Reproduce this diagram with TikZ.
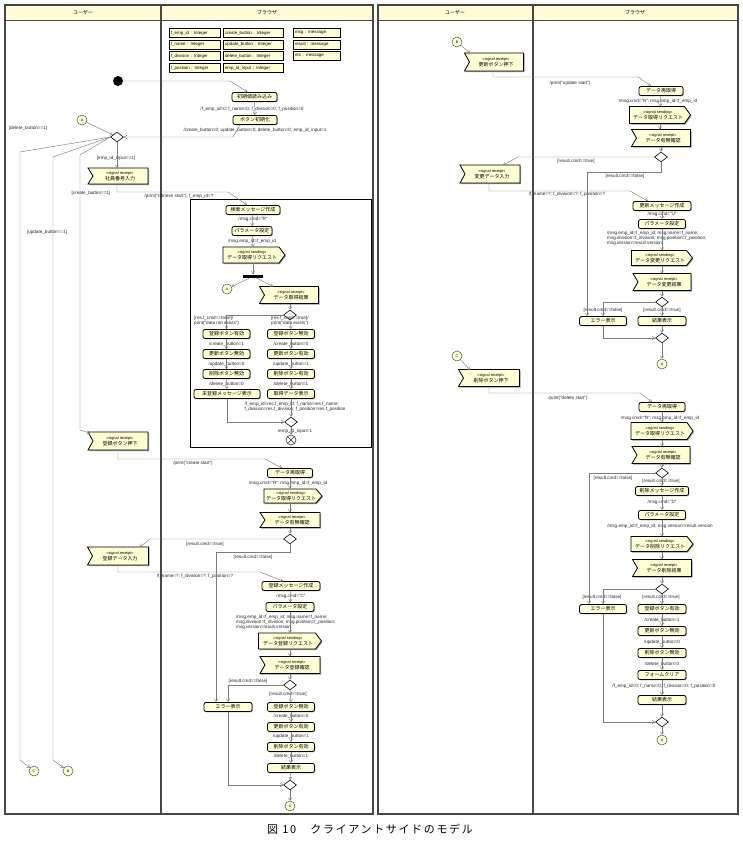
\documentclass[tikz,border=0pt]{standalone}
\usepackage{fontspec}
\setmainfont{Liberation Sans}
\newfontfamily\jp{Noto Sans CJK JP}
\newfontfamily\capfont[LetterSpace=15]{Noto Sans CJK JP}
\usetikzlibrary{arrows.meta,shapes.geometric,shadows,calc}
\definecolor{actfill}{RGB}{255,255,212}
\definecolor{linegray}{RGB}{125,125,125}
\definecolor{hdrfill}{RGB}{255,252,215}
\definecolor{panel}{RGB}{70,70,70}
\tikzset{
  act/.style={draw=black, line width=0.8pt, rounded corners=2pt, fill=actfill,
    font=\jp\fontsize{5}{6}\selectfont, minimum height=9, inner sep=1pt,
    drop shadow={shadow xshift=0.9pt, shadow yshift=-0.9pt, fill=black!45, opacity=0.6}},
  varbox/.style={draw=black, line width=0.9pt, fill=actfill, font=\fontsize{4.4}{5}\selectfont,
    minimum height=9, inner sep=2pt, align=left,
    drop shadow={shadow xshift=0.9pt, shadow yshift=-0.9pt, fill=black!45, opacity=0.6}},
  sigshape/.style={draw=black, line width=0.8pt, fill=actfill},
  sigtxt/.style={font=\jp\fontsize{5}{5.6}\selectfont, align=center, inner sep=0pt},
  lab/.style={font=\fontsize{4.6}{5.2}\selectfont, inner sep=0pt, text=black!85},
  flow/.style={draw=linegray, line width=0.45pt, -{Straight Barb[length=2.6pt,width=3.4pt]}},
  dec/.style={diamond, draw=black, line width=0.6pt, fill=white, minimum width=13, minimum height=10, inner sep=0pt},
  conn/.style={circle, draw=black!70, line width=0.5pt, fill=actfill, minimum size=10, inner sep=0pt,
    font=\fontsize{3.6}{4}\selectfont},
  ffinal/.style={circle, draw=black!80, line width=0.6pt, fill=white, minimum size=10, inner sep=0pt},
  hdr/.style={font=\jp\fontsize{5}{6}\selectfont, inner sep=0pt},
}
\newcommand{\stereo}[1]{{\normalfont\fontsize{3.9}{4.6}\selectfont <<#1>>}}
\newcommand{\sigrecv}[6]{%
  \fill[black!40] ({#2-#4/2+1},{#3-#5/2+1}) -- ({#2+#4/2+1},{#3-#5/2+1}) -- ({#2+#4/2+1},{#3+#5/2+1}) -- ({#2-#4/2+1},{#3+#5/2+1}) -- ({#2-#4/2+6},{#3+1}) -- cycle;
  \path[sigshape] ({#2-#4/2},{#3-#5/2}) -- ({#2+#4/2},{#3-#5/2}) -- ({#2+#4/2},{#3+#5/2}) -- ({#2-#4/2},{#3+#5/2}) -- ({#2-#4/2+5},{#3}) -- cycle;
  \node[sigtxt, minimum width=#4, minimum height=#5] (#1) at ({#2+2},#3) {\stereo{signal receipt}\\#6};
}
\newcommand{\sigsend}[6]{%
  \fill[black!40] ({#2-#4/2+1},{#3-#5/2+1}) -- ({#2+#4/2-5},{#3-#5/2+1}) -- ({#2+#4/2+1},{#3+1}) -- ({#2+#4/2-5},{#3+#5/2+1}) -- ({#2-#4/2+1},{#3+#5/2+1}) -- cycle;
  \path[sigshape] ({#2-#4/2},{#3-#5/2}) -- ({#2+#4/2-6},{#3-#5/2}) -- ({#2+#4/2},{#3}) -- ({#2+#4/2-6},{#3+#5/2}) -- ({#2-#4/2},{#3+#5/2}) -- cycle;
  \node[sigtxt, minimum width=#4, minimum height=#5] (#1) at ({#2-2},#3) {\stereo{signal sending}\\#6};
}
\begin{document}
\begin{tikzpicture}[x=1pt,y=-1pt]
\useasboundingbox (0,0) rectangle (743,841);
\fill[white] (0,0) rectangle (743,841);
% ===== panels =====
\fill[hdrfill] (5,5) rectangle (373,20);
\fill[hdrfill] (378,5) rectangle (738,20);
\draw[panel, line width=1.2pt] (5,5) rectangle (373,814);
\draw[panel, line width=1.2pt] (378,5) rectangle (738,814);
\draw[panel, line width=0.8pt] (5,20) -- (373,20);
\draw[panel, line width=0.8pt] (378,20) -- (738,20);
\draw[panel, line width=1.2pt] (161,5) -- (161,814);
\draw[panel, line width=1.2pt] (533,5) -- (533,814);
\node[hdr] (h1) at (83,13) {ユーザー};
\node[hdr] (h2) at (267,13) {ブラウザ};
\node[hdr] (h3) at (455,13) {ユーザー};
\node[hdr] (h4) at (635,13) {ブラウザ};
% ===== variables =====
\node[varbox, text width=47] (v1) at (194.5,33) {f\_emp\_id : Integer};
\node[varbox, text width=47] (v2) at (194.5,44.5) {f\_name : Integer};
\node[varbox, text width=47] (v3) at (194.5,56) {f\_division : Integer};
\node[varbox, text width=47] (v4) at (194.5,68) {f\_position : Integer};
\node[varbox, text width=56] (v5) at (253,33) {create\_button : Integer};
\node[varbox, text width=56] (v6) at (253,44.5) {update\_button : Integer};
\node[varbox, text width=56] (v7) at (253,56) {delete\_button : Integer};
\node[varbox, text width=56] (v8) at (253,68) {emp\_id\_input : Integer};
\node[varbox, text width=43] (v9) at (316.5,33) {msg : message};
\node[varbox, text width=43] (v10) at (316.5,44.5) {result : message};
\node[varbox, text width=43] (v11) at (316.5,56) {res : message};
% ===== left: start =====
\node[circle, fill=black, minimum size=10, inner sep=0pt] (init) at (118,81) {};
\node[act, minimum width=45] (ainit) at (254.5,97) {初期値読み込み};
\node[act, minimum width=44] (abtn) at (255,120) {ボタン初期化};
\node[lab] (lb1) at (252,109) {/f\_emp\_id=0; f\_name=0; f\_division=0; f\_position=0};
\node[lab] (lb2) at (255,130) {/create\_button=0; update\_button=0; delete\_button=0; emp\_id\_input=1};
\node[dec] (d1) at (117,137) {};
\node[conn] (ca) at (82,120) {A};
\draw[flow] (init) -- (230,81) -- ([xshift=-7]ainit.north);
\draw[flow] (ainit) -- (abtn);
\draw[flow] ([xshift=-15]abtn.south) -- (233,137) -- (d1.east);
\draw[flow] (ca) -- (d1);
\node[lab] (lb3) at (28,128) {[delete\_button==1]};
\node[lab] (lb4) at (116,158) {[emp\_id\_input==1]};
\node[lab] (lb5) at (91,193) {[create\_button==1]};
\node[lab] (lb6) at (47,232) {[update\_button==1]};
\sigrecv{semp}{118}{176}{60}{16}{社員番号入力}
\sigrecv{screate}{118}{441}{60}{18}{登録ボタン押下}
\sigrecv{sinput}{118}{556}{61}{18}{登録データ入力}
\node[conn] (cl1) at (34,771) {C};
\node[conn] (cl2) at (68,771) {B};
\draw[flow] (d1.south) -- (117,168);
\draw[flow] (d1.west) -- (20,152) -- (20,760) -- (cl1);
\draw[flow] (d1.west) -- (53,157) -- (53,760) -- (cl2);
\draw[flow] (d1.west) -- (80,155) -- (80,430) -- (90,433);
% ===== frame (retrieve) =====
\draw[black, line width=1pt] (190,199) rectangle (371,447);
\node[act, minimum width=54] (f1) at (253,210) {検索メッセージ作成};
\node[act, minimum width=40] (f2) at (252,231) {パラメータ設定};
\sigsend{f3}{254}{255}{62}{16}{データ取得リクエスト}
\node[fill=black, minimum width=20, minimum height=3, inner sep=0pt] (fork) at (253,276) {};
\node[conn] (cf) at (227,289) {A};
\sigrecv{f4}{289}{295}{59}{17}{データ取得結果}
\node[dec] (d2) at (290,315) {};
\node[lab] (lb7) at (179,196) {/print("retrieve start"); f\_emp\_id=?};
\node[lab] (lb8) at (253,219.5) {/msg.cmd="R"};
\node[lab] (lb9) at (252,241) {/msg.emp\_id=f\_emp\_id};
\draw[flow] (117,184) -- (117,192) -- (228,192) -- ([xshift=-6]f1.north);
\draw[flow] (f1) -- (f2);
\draw[flow] (f2) -- (253,247);
\draw[flow] (253,263) -- (fork);
\draw[flow] ([xshift=-3]fork.south) -- (cf);
\draw[flow] ([xshift=3]fork.south) -- (273,286.5);
\draw[flow] (290,303.5) -- (d2);
\node[act, minimum width=47] (g1) at (226.5,334) {登録ボタン有効};
\node[act, minimum width=47] (g2) at (226.5,354) {更新ボタン無効};
\node[act, minimum width=47] (g3) at (226.5,374) {削除ボタン無効};
\node[act, minimum width=66] (g4) at (227,394) {未登録メッセージ表示};
\node[act, minimum width=47] (k1) at (291,334) {登録ボタン無効};
\node[act, minimum width=47] (k2) at (291,354) {更新ボタン有効};
\node[act, minimum width=47] (k3) at (291,374) {削除ボタン有効};
\node[act, minimum width=47] (k4) at (291,394) {取得データ表示};
\node[dec] (d3) at (291,422) {};
\node[ffinal] (ff) at (291,440) {};
\draw[black!80, line width=0.6pt] (ff.north west) -- (ff.south east) (ff.north east) -- (ff.south west);
\node[lab, anchor=west, align=left] (lb10) at (194,320.5) {[res.f\_cmd==false]/\\print("data not exists")};
\node[lab, anchor=west, align=left] (lb11) at (271,321) {[res.f\_cmd==true]/\\print("data exists")};
\node[lab] (lb12) at (226.5,344) {/create\_button=1};
\node[lab] (lb13) at (226.5,364) {/update\_button=0};
\node[lab] (lb14) at (226.5,384) {/delete\_button=0};
\node[lab] (lb15) at (291,344) {/create\_button=0};
\node[lab] (lb16) at (291,364) {/update\_button=1};
\node[lab] (lb17) at (291,384) {/delete\_button=1};
\node[lab, align=left] (lb18) at (295,407) {/f\_emp\_id=res.f\_emp\_id; f\_name=res.f\_name;\\f\_division=res.f\_division; f\_position=res.f\_position};
\node[lab] (lb19) at (295,431.5) {/emp\_id\_input=1};
\draw[flow] (d2.west) -- (226.5,315) -- (g1.north);
\draw[flow] (d2.south) -- (k1.north);
\draw[flow] (g1) -- (g2);
\draw[flow] (g2) -- (g3);
\draw[flow] (g3) -- (g4);
\draw[flow] (k1) -- (k2);
\draw[flow] (k2) -- (k3);
\draw[flow] (k3) -- (k4);
\draw[flow] (g4.south) -- (227,422) -- (d3.west);
\draw[flow] (k4) -- (d3);
\draw[flow] (d3) -- (ff);
% ===== create flow =====
\node[act, minimum width=45] (re1) at (290,473) {データ再取得};
\sigsend{s1}{293}{496}{58}{14}{データ取得リクエスト}
\sigrecv{r1}{290}{520}{60}{15}{データ有無確認}
\node[dec] (d4) at (290,539) {};
\node[act, minimum width=58] (cm) at (291,586) {登録メッセージ作成};
\node[act, minimum width=48] (cp) at (290,607) {パラメータ設定};
\sigsend{cs}{290}{641}{63}{16}{データ登録リクエスト}
\sigrecv{cr}{290}{665}{60}{17}{データ登録確認}
\node[dec] (d5) at (290,685) {};
\node[act, minimum width=48] (err) at (228,707) {エラー表示};
\node[act, minimum width=47] (t1) at (291,707) {登録ボタン無効};
\node[act, minimum width=47] (t2) at (291,727) {更新ボタン有効};
\node[act, minimum width=47] (t3) at (291,747) {削除ボタン有効};
\node[act, minimum width=47] (t4) at (291,768) {結果表示};
\node[dec] (d6) at (290,785) {};
\node[conn] (cend) at (290,806) {A};
\node[lab] (lb20) at (193,463) {/print("create start")};
\node[lab] (lb21) at (288,483) {/msg.cmd="R"; msg.emp\_id=f\_emp\_id};
\node[lab] (lb22) at (205,544) {[result.cmd==true]};
\node[lab] (lb23) at (253,557) {[result.cmd==false]};
\node[lab] (lb24) at (195,576) {/f\_name=?; f\_division=?; f\_position=?};
\node[lab] (lb25) at (291,596) {/msg.cmd="C"};
\node[lab, anchor=north west, align=left] (lb26) at (236,614.5) {/msg.emp\_id=f\_emp\_id; msg.name=f\_name;\\msg.division=f\_division; msg.position=f\_position;\\msg.version=result.version};
\node[lab] (lb27) at (248,681) {[result.cmd==false]};
\node[lab] (lb28) at (288,694) {[result.cmd==true]};
\node[lab] (lb29) at (291,716.5) {/create\_button=0};
\node[lab] (lb30) at (291,736.5) {/update\_button=1};
\node[lab] (lb31) at (291,756.5) {/delete\_button=1};
\draw[flow] (118,450) -- (118,459) -- (265,459) -- ([xshift=-8]re1.north);
\draw[flow] (re1) -- (290,489);
\draw[flow] (290,503) -- (290,512.5);
\draw[flow] (290,527.5) -- (d4);
\draw[flow] (d4.west) -- (150,539) -- (140,547);
\draw[flow] (d4.south) -- (290,552) -- (216,552) -- ([xshift=-12]err.north);
\draw[flow] (118,565) -- (118,572) -- (260,572) -- ([xshift=-8]cm.north);
\draw[flow] (cm) -- (cp);
\draw[flow] (cp) -- (290,633);
\draw[flow] (290,649) -- (290,656.5);
\draw[flow] (290,673.5) -- (d5);
\draw[flow] (d5.west) -- (228,685) -- (err.north);
\draw[flow] (d5.south) -- (t1.north);
\draw[flow] (t1) -- (t2);
\draw[flow] (t2) -- (t3);
\draw[flow] (t3) -- (t4);
\draw[flow] (t4) -- (d6);
\draw[flow] (err.south) -- (228,785) -- (d6.west);
\draw[flow] (d6) -- (cend);
% ===== right: update =====
\node[conn] (cu) at (457,42) {B};
\sigrecv{su}{494}{62}{59}{18}{更新ボタン押下}
\node[act, minimum width=44] (u1) at (661,91) {データ再取得};
\sigsend{u2}{660}{115}{61}{17}{データ取得リクエスト}
\sigrecv{u3}{661}{138}{59}{17}{データ有無確認}
\node[dec] (d7) at (661,157) {};
\sigrecv{sui}{490}{174}{60}{18}{変更データ入力}
\node[act, minimum width=58] (u4) at (662,206) {更新メッセージ作成};
\node[act, minimum width=47] (u5) at (662,224) {パラメータ設定};
\sigsend{u6}{662}{258}{61}{15}{データ変更リクエスト}
\sigrecv{u7}{662}{282}{58}{17}{データ変更結果}
\node[dec] (d8) at (662,302) {};
\node[act, minimum width=47] (err2) at (603,321) {エラー表示};
\node[act, minimum width=48] (u8) at (662,321) {結果表示};
\node[dec] (d9) at (662,338) {};
\node[conn] (cend2) at (662,364) {A};
\node[lab] (rb1) at (570,83) {/print("update start")};
\node[lab] (rb2) at (658,101) {/msg.cmd="R"; msg.emp\_id=f\_emp\_id};
\node[lab] (rb3) at (576,161) {[result.cmd==true]};
\node[lab] (rb4) at (625,176) {[result.cmd==false]};
\node[lab] (rb5) at (567,194.5) {/f\_name=?; f\_division=?; f\_position=?};
\node[lab] (rb6) at (662,214.5) {/msg.cmd="U"};
\node[lab, anchor=north west, align=left] (rb7) at (607,230.5) {/msg.emp\_id=f\_emp\_id; msg.name=f\_name;\\msg.division=f\_division; msg.position=f\_position;\\msg.version=result.version};
\node[lab] (rb8) at (603,310) {[result.cmd==false]};
\node[lab] (rb9) at (662,310) {[result.cmd==true]};
\draw[flow] (cu) -- (470,53);
\draw[flow] (493,71) -- (493,77) -- (638,77) -- ([xshift=-10]u1.north);
\draw[flow] (u1) -- (660,106.5);
\draw[flow] (660,123.5) -- (660,129.5);
\draw[flow] (661,146.5) -- (d7);
\draw[flow] (d7.west) -- (518,157) -- (503,165);
\draw[flow] (d7.south) -- (661,172) -- (587,172) -- ([xshift=-16]err2.north);
\draw[flow] (489,183) -- (489,191) -- (630,191) -- ([xshift=-14]u4.north);
\draw[flow] (u4) -- (u5);
\draw[flow] (u5) -- (662,250.5);
\draw[flow] (662,265.5) -- (662,273.5);
\draw[flow] (662,290.5) -- (d8);
\draw[flow] (d8.west) -- (603,302) -- (err2.north);
\draw[flow] (d8.south) -- (u8.north);
\draw[flow] (err2.south) -- (603,338) -- (d9.west);
\draw[flow] (u8) -- (d9);
\draw[flow] (d9) -- (cend2);
% ===== right: delete =====
\node[conn] (cd) at (457,356) {C};
\sigrecv{sd}{489}{378}{61}{17}{削除ボタン押下}
\node[act, minimum width=46] (x1) at (662,407) {データ再取得};
\sigsend{x2}{662}{431}{62}{17}{データ取得リクエスト}
\sigrecv{x3}{661}{455}{58}{17}{データ有無確認}
\node[dec] (d10) at (662,473) {};
\node[act, minimum width=53] (x4) at (662,491) {削除メッセージ作成};
\node[act, minimum width=47] (x5) at (662,515) {パラメータ設定};
\sigsend{x6}{662}{544}{62}{15}{データ削除リクエスト}
\sigrecv{x7}{662}{568}{59}{17}{データ削除結果}
\node[dec] (d11) at (662,589) {};
\node[act, minimum width=47] (err3) at (603,609) {エラー表示};
\node[act, minimum width=48] (y1) at (662,609) {登録ボタン有効};
\node[act, minimum width=48] (y2) at (662,631) {更新ボタン無効};
\node[act, minimum width=48] (y3) at (662,653) {削除ボタン無効};
\node[act, minimum width=48] (y4) at (662,675) {フォームクリア};
\node[act, minimum width=48] (y5) at (662,700) {結果表示};
\node[dec] (d12) at (662,722) {};
\node[conn] (cend3) at (662,740) {A};
\node[lab] (rb10) at (568,398) {/print("delete start")};
\node[lab] (rb11) at (660,418) {/msg.cmd="R"; msg.emp\_id=f\_emp\_id};
\node[lab] (rb12) at (613,478) {[result.cmd==false]};
\node[lab] (rb13) at (661,481) {[result.cmd==true]};
\node[lab] (rb14) at (662,502) {/msg.cmd="D"};
\node[lab] (rb15) at (660,526.5) {/msg.emp\_id=f\_emp\_id; msg.version=result.version};
\node[lab] (rb16) at (602,597) {[result.cmd==false]};
\node[lab] (rb17) at (661,597) {[result.cmd==true]};
\node[lab] (rb18) at (662,620) {/create\_button=1};
\node[lab] (rb19) at (662,642) {/update\_button=0};
\node[lab] (rb20) at (662,664) {/delete\_button=0};
\node[lab] (rb21) at (664,686) {/f\_emp\_id=0; f\_name=0; f\_division=0; f\_position=0};
\draw[flow] (cd) -- (470,370);
\draw[flow] (489,386.5) -- (489,393) -- (640,393) -- ([xshift=-10]x1.north);
\draw[flow] (x1) -- (662,422.5);
\draw[flow] (662,439.5) -- (662,446.5);
\draw[flow] (662,463.5) -- (d10);
\draw[flow] (d10.west) -- (589,473) -- ([xshift=-14]err3.north);
\draw[flow] (d10.south) -- (x4.north);
\draw[flow] (x4) -- (x5);
\draw[flow] (x5) -- (662,536.5);
\draw[flow] (662,551.5) -- (662,559.5);
\draw[flow] (662,576.5) -- (d11);
\draw[flow] (d11.west) -- (603,589) -- (err3.north);
\draw[flow] (d11.south) -- (y1.north);
\draw[flow] (y1) -- (y2);
\draw[flow] (y2) -- (y3);
\draw[flow] (y3) -- (y4);
\draw[flow] (y4) -- (y5);
\draw[flow] (y5) -- (d12);
\draw[flow] (err3.south) -- (603,722) -- (d12.west);
\draw[flow] (d12) -- (cend3);
% ===== caption =====
\node[font=\capfont\fontsize{11}{12}\selectfont, inner sep=0pt] (cap) at (370,829) {図 10　クライアントサイドのモデル};
\end{tikzpicture}
\end{document}
